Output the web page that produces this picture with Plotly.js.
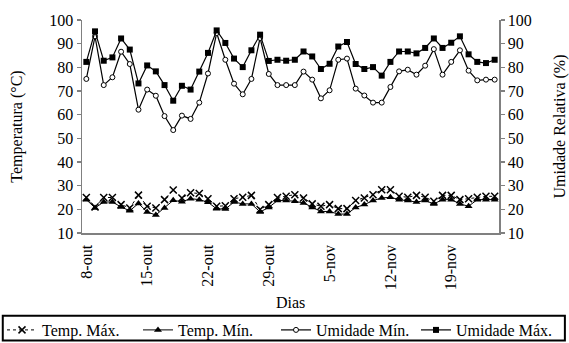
<!DOCTYPE html>
<html>
<head>
<meta charset="utf-8">
<script src="https://cdn.plot.ly/plotly-3.0.1.min.js"></script>
<style>html,body{margin:0;padding:0;background:#fff;}#chart{width:569px;height:343px;}</style>
</head>
<body>
<div id="chart"></div>
<script>
var dias = ["8-out","9-out","10-out","11-out","12-out","13-out","14-out","15-out","16-out","17-out","18-out","19-out","20-out","21-out","22-out","23-out","24-out","25-out","26-out","27-out","28-out","29-out","30-out","31-out","1-nov","2-nov","3-nov","4-nov","5-nov","6-nov","7-nov","8-nov","9-nov","10-nov","11-nov","12-nov","13-nov","14-nov","15-nov","16-nov","17-nov","18-nov","19-nov","20-nov","21-nov","22-nov","23-nov","24-nov"];
var tickLabels = ["8-out","15-out","22-out","29-out","5-nov","12-nov","19-nov"];
var tempMax = [25,21,25,25,22,20.6,26,21.3,20.6,24.1,28.2,24.8,27,26.7,24.5,21.3,21.5,24.5,25.1,25.9,19.9,22,25,25.5,26.2,24.8,22.3,21.3,22,20.3,20.3,23.7,24.8,26.2,28.3,28.3,25.5,25.1,25.9,25.1,23.4,25.9,25.9,24.1,24.5,25.1,25.5,25.5];
var tempMin = [24.1,20.6,23.1,23.1,21,19.4,22.5,18.9,17.6,20.6,23.8,23.2,24.5,24.1,23.0,20.2,20.1,23.1,22.3,22.3,18.9,20.8,23.7,23.7,23.4,22.7,20.8,19.1,19.1,18.0,18.0,20.8,22.0,23.7,24.8,25.1,24.1,23.7,23.1,23.7,22.3,24.1,24.1,22.3,21.3,24.1,24.1,24.1];
var umidMin = [75.1,93.1,72.5,75.8,86.6,81.4,62.1,70.6,68.0,59.4,53.5,59.6,58.2,65.1,77.4,94.5,83.2,73.1,68.6,75.1,92.4,77.2,72.5,72.5,72.5,78.2,74.8,66.9,70.3,83.2,83.7,71.0,68.1,65.1,65.1,71.7,78.3,79.0,76.9,80.7,87.7,76.9,82.3,87.2,78.6,74.5,74.8,74.8];
var umidMax = [82.3,95.2,82.8,84.2,92.2,87.5,73.2,80.8,78.3,72.5,65.9,72.2,70.6,78.2,86.1,95.6,90.3,83.7,80.1,87.2,93.8,82.7,83.2,82.8,83.2,86.7,84.6,79.3,81.5,88.8,90.7,81.4,79.3,80.1,76.5,82.3,86.7,86.7,85.9,88.2,92.2,88.2,90.4,93.1,85.5,82.3,81.8,83.2];

var FONT = "Liberation Serif, Times New Roman, serif";
var boundaries = [];
for (var i = 0; i < tickLabels.length; i++) { boundaries.push(dias.indexOf(tickLabels[i]) - 0.5); }
boundaries.push(dias.length - 0.5);

var traces = [
  {x: dias, y: tempMax, name: "Temp. Máx.", type: "scatter", mode: "lines+markers", yaxis: "y", legend: "legend",
   line: {color: "#000", width: 1, dash: "dot"}, marker: {symbol: "x-thin-open", size: 7, color: "#000", line: {color: "#000", width: 1.5}}},
  {x: dias, y: tempMin, name: "Temp. Mín.", type: "scatter", mode: "lines+markers", yaxis: "y", legend: "legend2",
   line: {color: "#000", width: 1}, marker: {symbol: "triangle-up", size: 7, color: "#000"}},
  {x: dias, y: umidMin, name: "Umidade Mín.", type: "scatter", mode: "lines+markers", yaxis: "y2", legend: "legend3",
   line: {color: "#000", width: 1.2}, marker: {symbol: "circle", size: 5, color: "#fff", line: {color: "#000", width: 1}}},
  {x: dias, y: umidMax, name: "Umidade Máx.", type: "scatter", mode: "lines+markers", yaxis: "y2", legend: "legend4",
   line: {color: "#000", width: 1.2}, marker: {symbol: "square", size: 6, color: "#000"}}
];

function leg(px) {
  return {orientation: "h", xref: "container", yref: "container", x: px / 569, xanchor: "left",
          y: 1 - 313 / 343, yanchor: "top", font: {family: FONT, size: 16, color: "#000"},
          bgcolor: "rgba(0,0,0,0)", borderwidth: 0, itemwidth: 30};
}

var axisCol = "#808080";
var layout = {
  width: 569, height: 343,
  margin: {l: 82, r: 70, t: 20, b: 110, autoexpand: false},
  paper_bgcolor: "#fff", plot_bgcolor: "#fff",
  font: {family: FONT, size: 16, color: "#000"},
  showlegend: true,
  legend: leg(2), legend2: leg(138), legend3: leg(276), legend4: leg(416),
  xaxis: {type: "category", range: [-0.5, dias.length - 0.5], tickmode: "array", tickvals: tickLabels,
          tickangle: -90, ticks: "", ticklabelstandoff: 4, showgrid: false, zeroline: false, showline: true, automargin: false,
          linecolor: axisCol, linewidth: 1.5, tickfont: {family: FONT, size: 16}},
  xaxis2: {overlaying: "x", type: "linear", range: [-0.5, dias.length - 0.5], tickmode: "array",
           tickvals: boundaries, ticks: "outside", ticklen: 5, tickcolor: axisCol, tickwidth: 1.5, automargin: false,
           showticklabels: false, showgrid: false, zeroline: false, showline: false, side: "bottom", anchor: "y"},
  yaxis: {range: [10, 100], dtick: 10, tick0: 0, ticks: "outside", ticklen: 4, tickcolor: axisCol, tickwidth: 1.5,
          showgrid: false, zeroline: false, showline: true, linecolor: axisCol, linewidth: 1.5, automargin: false,
          title: {text: "Temperatura (°C)", font: {family: FONT, size: 16}, standoff: 22},
          tickfont: {family: FONT, size: 16}},
  yaxis3: {overlaying: "y", range: [10, 100], dtick: 10, tick0: 0, ticks: "inside", ticklen: 4, tickcolor: axisCol, automargin: false,
           tickwidth: 1.5, showticklabels: false, showgrid: false, zeroline: false, showline: false, anchor: "x", side: "left"},
  yaxis2: {overlaying: "y", side: "right", anchor: "x", range: [10, 100], dtick: 10, tick0: 0, ticks: "outside", ticklen: 4,
           tickcolor: axisCol, tickwidth: 1.5, showgrid: false, zeroline: false, showline: true, linecolor: axisCol, linewidth: 1.5,
           automargin: false,
           title: {text: "Umidade Relativa (%)", font: {family: FONT, size: 16}, standoff: 26},
           tickfont: {family: FONT, size: 16}},
  yaxis4: {overlaying: "y", side: "right", anchor: "x", range: [10, 100], dtick: 10, tick0: 0, ticks: "inside", ticklen: 4,
           tickcolor: axisCol, tickwidth: 1.5, showticklabels: false, showgrid: false, zeroline: false, showline: false, automargin: false},
  annotations: [{text: "Dias", xref: "paper", yref: "paper", x: 0.5, y: -0.275, xanchor: "center", yanchor: "top",
                 showarrow: false, font: {family: FONT, size: 16, color: "#000"}}],
  shapes: [{type: "rect", xref: "paper", yref: "paper", x0: -0.19, x1: 1.158, y0: -0.505, y1: -0.388,
            line: {color: "#000", width: 2}, fillcolor: "rgba(0,0,0,0)"}]
};

Plotly.newPlot("chart", traces, layout, {displayModeBar: false, staticPlot: true});
</script>
</body>
</html>
